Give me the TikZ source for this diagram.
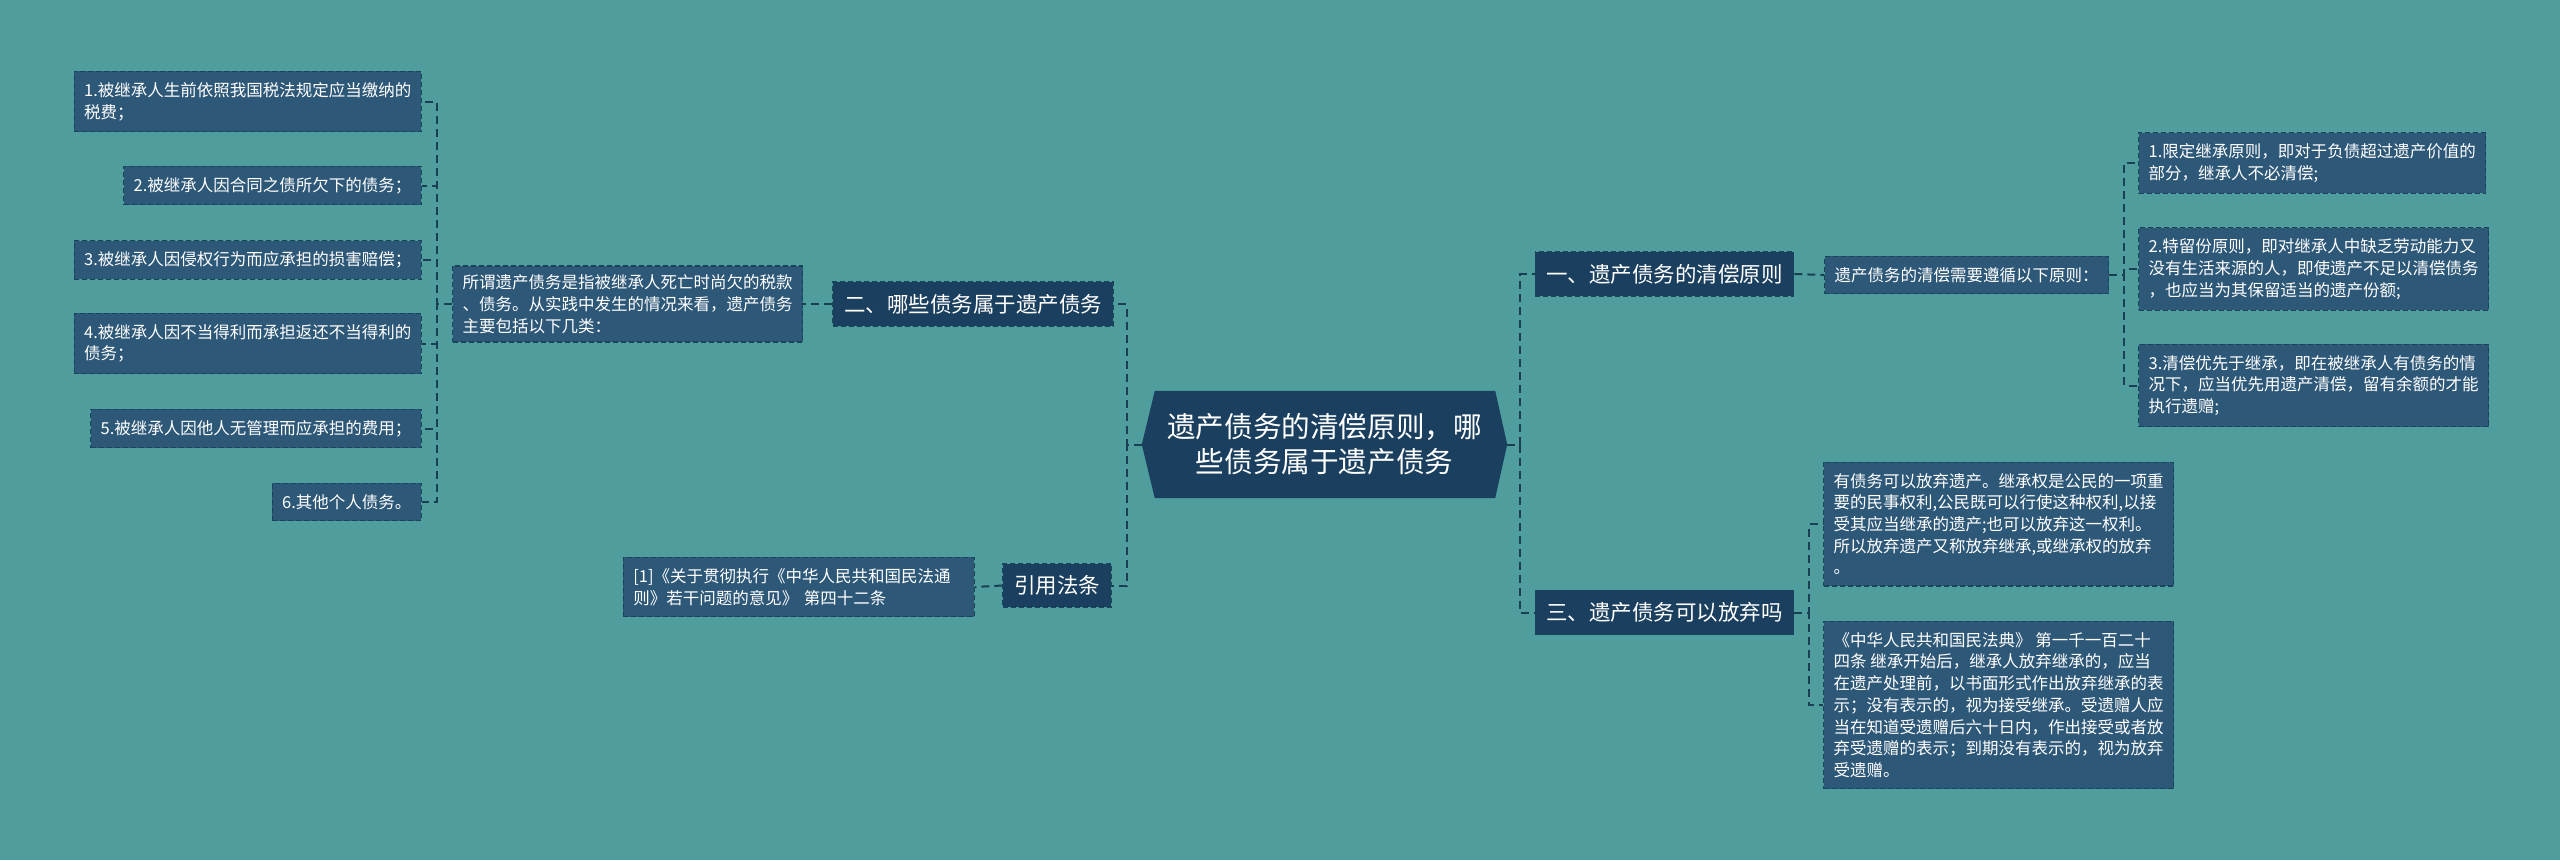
\documentclass[tikz,border=0pt]{standalone}
\usepackage{fontspec}
\newfontfamily\cjk{Noto Sans CJK SC}
\usetikzlibrary{backgrounds}
\definecolor{bgc}{RGB}{79,157,157}
\definecolor{rootc}{RGB}{27,63,94}
\definecolor{leafc}{RGB}{46,88,120}
\definecolor{edgec}{RGB}{24,68,92}
\definecolor{linec}{RGB}{26,62,84}
\tikzset{
 leaf/.style={draw=edgec, fill=leafc, dash pattern=on 5pt off 3pt, line width=1.2pt, text=white, font=\cjk\fontsize{16.5}{21.7}\selectfont, align=left, inner xsep=10pt, inner ysep=11pt},
 lvl/.style={draw=edgec, fill=rootc, dash pattern=on 5pt off 3pt, line width=1.2pt, text=white, font=\cjk\fontsize{21.5}{26}\selectfont, inner xsep=11pt, inner ysep=12pt},
 rootbox/.style={text=white, font=\cjk\fontsize{28.6}{35}\selectfont, align=center, minimum width=365pt, minimum height=107pt, inner sep=0pt},
 conn/.style={draw=linec, line width=2pt, dash pattern=on 8pt off 5pt},
}
\begin{document}
\begin{tikzpicture}[x=1pt,y=-1pt]
\useasboundingbox (0,0) rectangle (2560,860);
% root
\node[rootbox] (root) at (1324.5,444.5) {遗产债务的清偿原则，哪\\些债务属于遗产债务};
% level 1
\node[lvl] (er) at (973,304) {二、哪些债务属于遗产债务};
\node[lvl] (yy) at (1057,585.5) {引用法条};
\node[lvl] (yi) at (1664.5,274) {一、遗产债务的清偿原则};
\node[lvl] (san) at (1664.5,612.5) {三、遗产债务可以放弃吗};
% left side leaves
\node[leaf, inner ysep=8.5pt] (suowei) at (627.5,304) {所谓遗产债务是指被继承人死亡时尚欠的税款\\、债务。从实践中发生的情况来看，遗产债务\\主要包括以下几类：};
\node[leaf, anchor=east] (l1) at (422,101.5) {1.被继承人生前依照我国税法规定应当缴纳的\\税费；};
\node[leaf, anchor=east] (l2) at (422,185.5) {2.被继承人因合同之债所欠下的债务；};
\node[leaf, anchor=east] (l3) at (422,260) {3.被继承人因侵权行为而应承担的损害赔偿；};
\node[leaf, anchor=east] (l4) at (422,343.5) {4.被继承人因不当得利而承担返还不当得利的\\债务；};
\node[leaf, anchor=east] (l5) at (422,428.5) {5.被继承人因他人无管理而应承担的费用；};
\node[leaf, anchor=east] (l6) at (422,502) {6.其他个人债务。};
\node[leaf, anchor=east, text width=331pt] (ref) at (975,587) {[1]《关于贯彻执行《中华人民共和国民法通\\则》若干问题的意见》 第四十二条};
% right side leaves
\node[leaf, anchor=west] (need) at (1824,275) {遗产债务的清偿需要遵循以下原则：};
\node[leaf, anchor=west] (r1) at (2138,163) {1.限定继承原则，即对于负债超过遗产价值的\\部分，继承人不必清偿;};
\node[leaf, anchor=west] (r2) at (2138,269) {2.特留份原则，即对继承人中缺乏劳动能力又\\没有生活来源的人，即使遗产不足以清偿债务\\，也应当为其保留适当的遗产份额;};
\node[leaf, anchor=west] (r3) at (2138,385.5) {3.清偿优先于继承，即在被继承人有债务的情\\况下，应当优先用遗产清偿，留有余额的才能\\执行遗赠;};
\node[leaf, anchor=west] (ra) at (1823,524) {有债务可以放弃遗产。继承权是公民的一项重\\要的民事权利,公民既可以行使这种权利,以接\\受其应当继承的遗产;也可以放弃这一权利。\\所以放弃遗产又称放弃继承,或继承权的放弃\\。};
\node[leaf, anchor=west] (rb) at (1823,705) {《中华人民共和国民法典》 第一千一百二十\\四条 继承开始后，继承人放弃继承的，应当\\在遗产处理前，以书面形式作出放弃继承的表\\示；没有表示的，视为接受继承。受遗赠人应\\当在知道受遗赠后六十日内，作出接受或者放\\弃受遗赠的表示；到期没有表示的，视为放弃\\受遗赠。};
% background and root shape
\begin{scope}[on background layer]
\fill[bgc] (0,0) rectangle (2560,860);
\fill[rootc] (root.west) -- ([xshift=13pt]root.north west) -- ([xshift=-12pt]root.north east) -- (root.east) -- ([xshift=-12pt]root.south east) -- ([xshift=13pt]root.south west) -- cycle;
\end{scope}
% connectors
\draw[conn] (root.west) -- ++(-15,0) |- (er.east);
\draw[conn] (root.west) -- ++(-15,0) |- (yy.east);
\draw[conn] (root.east) -- ++(13,0) |- (yi.west);
\draw[conn] (root.east) -- ++(13,0) |- (san.west);
\draw[conn] (er.west) -- (suowei.east);
\foreach \n in {l1,l2,l3,l4,l5,l6} {\draw[conn] (suowei.west) -- ++(-15,0) |- (\n.east);}
\draw[conn] (yy.west) -- (ref.east);
\draw[conn] (yi.east) -- (need.west);
\foreach \n in {r1,r2,r3} {\draw[conn] (need.east) -- ++(15,0) |- (\n.west);}
\foreach \n in {ra,rb} {\draw[conn] (san.east) -- ++(15,0) |- (\n.west);}
\end{tikzpicture}
\end{document}
